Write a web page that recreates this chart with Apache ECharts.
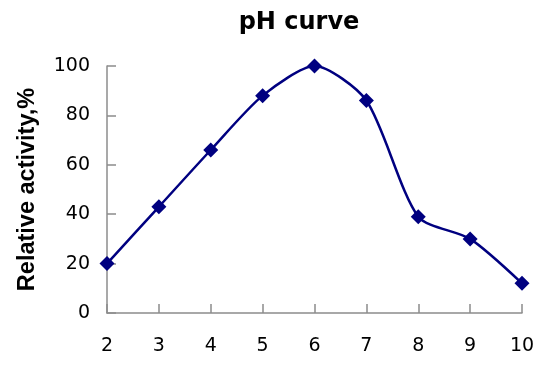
<!DOCTYPE html>
<html><head><meta charset="utf-8">
<script src="https://cdn.jsdelivr.net/npm/echarts@6/dist/echarts.min.js"></script>
<style>html,body{margin:0;padding:0;background:#fff}#c{width:556px;height:367px}</style>
</head><body><div id="c"></div>
<script>
const categories = [2, 3, 4, 5, 6, 7, 8, 9, 10];
const activity = [20, 43, 66, 88, 100, 86, 39, 30, 12];
const yTicks = [0, 20, 40, 60, 80, 100];

const chart = echarts.init(document.getElementById('c'), null, {renderer: 'canvas'});
const axisGray = '#8c8c8c';
chart.setOption({
  animation: false,
  backgroundColor: '#fff',
  title: {
    text: 'pH curve', left: 294, top: 6, textAlign: 'center',
    textStyle: {fontFamily: 'DejaVu Sans', fontWeight: 'bold', fontSize: 24, color: '#000'}
  },
  grid: {left: 107, right: 34, top: 66, bottom: 54, containLabel: false},
  xAxis: {
    type: 'value', min: 2, max: 10, interval: 1,
    axisLine: {lineStyle: {color: axisGray, width: 1.5}},
    axisTick: {show: true, inside: true, length: 9, lineStyle: {color: axisGray, width: 1.5}},
    splitLine: {show: false},
    axisLabel: {margin: 24, fontFamily: 'DejaVu Sans', fontSize: 19, color: '#000',
      formatter: v => categories.includes(v) ? String(v) : ''}
  },
  yAxis: {
    type: 'value', min: 0, max: 100, interval: 20,
    name: 'Relative activity,%', nameLocation: 'middle', nameGap: 67, nameRotate: 90,
    nameTextStyle: {fontFamily: 'Liberation Sans', fontWeight: 'bold', fontSize: 23.5, color: '#000'},
    axisLine: {show: true, lineStyle: {color: axisGray, width: 1.5}},
    axisTick: {show: true, inside: true, length: 9, lineStyle: {color: axisGray, width: 1.5}},
    splitLine: {show: false},
    axisLabel: {margin: 17, fontFamily: 'DejaVu Sans', fontSize: 19, color: '#000',
      formatter: v => yTicks.includes(v) ? String(v) : ''}
  },
  series: [{
    type: 'line',
    data: categories.map((c, i) => [c, activity[i]]),
    smooth: 0.25,
    symbol: 'diamond', symbolSize: 15,
    lineStyle: {color: '#000080', width: 2.5},
    itemStyle: {color: '#000080'},
    clip: false
  }]
});
</script></body></html>
